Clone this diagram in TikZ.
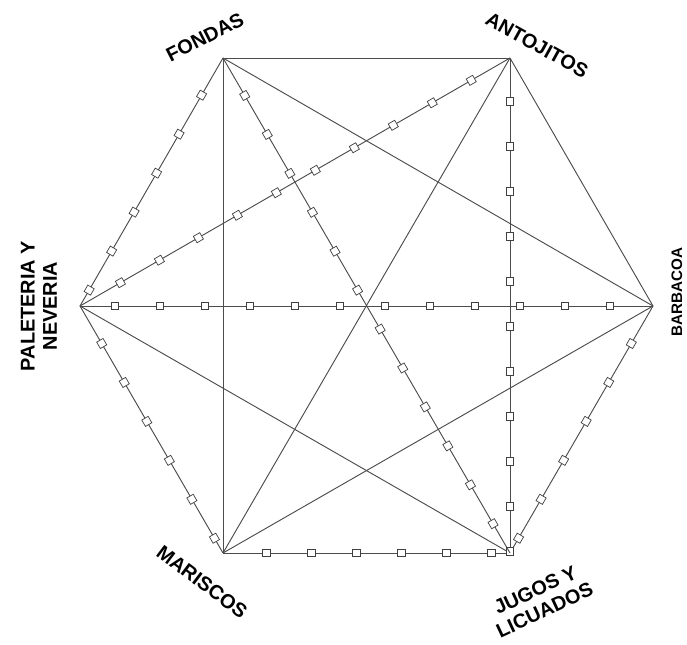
\documentclass[tikz,border=0pt]{standalone}
\usepackage{fontspec}
\setmainfont{Liberation Sans}
\usetikzlibrary{decorations.markings}

\tikzset{
  edge/.style={draw=black!70, line width=0.8pt},
  sq/.style={draw=black!75, fill=white, line width=0.6pt, minimum size=6.3pt, inner sep=0pt, transform shape},
  sqline/.style={edge, postaction={decorate, decoration={markings,
      mark=between positions #1 and 1 step 1.35cm with {\node[sq] {};}}}},
  sqline/.default=1.3cm,
  lbl/.style={font=\fontsize{17}{19}\selectfont\bfseries, inner sep=0pt, align=center}
}

\begin{document}
\begin{tikzpicture}[x=0.03cm, y=-0.03cm]
    \useasboundingbox (0,0) rectangle (687,645);

    \coordinate (F) at (223, 58);
    \coordinate (A) at (510, 58);
    \coordinate (B) at (653,306);
    \coordinate (J) at (510,553);
    \coordinate (M) at (223,553);
    \coordinate (P) at ( 80,306);

    % plain lines
    \draw[edge] (F) -- (A);
    \draw[edge] (A) -- (B);
    \draw[edge] (F) -- (M);
    \draw[edge] (F) -- (B);
    \draw[edge] (A) -- (M);
    \draw[edge] (P) -- (J);
    \draw[edge] (M) -- (B);

    % lines with squares
    \draw[sqline=1.05cm] (P) -- (B);
    \draw[sqline=0.55cm] (P) -- (F);
    \draw[sqline=1.4cm]  (P) -- (A);
    \draw[sqline] (P) -- (M);
    \draw[sqline] (M) -- (J);
    \draw[sqline] (B) -- (J);
    \draw[sqline] (A) -- (J);
    \draw[sqline] (F) -- (J);

    \node[lbl, rotate=27]  (fondas)    at (205, 37) {FONDAS};
    \node[lbl, rotate=-29] (antojitos) at (537, 45) {ANTOJITOS};
    \node[lbl, rotate=90]  (paleteria) at ( 39,306) {PALETERIA Y\\NEVERIA};
    \node[lbl, rotate=90, font=\fontsize{13}{15}\selectfont\bfseries] (barbacoa) at (677,292) {BARBACOA};
    \node[lbl, rotate=-37] (mariscos)  at (202,582) {MARISCOS};
    \node[lbl, rotate=25]  (jugos)     at (540,600) {JUGOS Y\\LICUADOS};
\end{tikzpicture}
\end{document}
